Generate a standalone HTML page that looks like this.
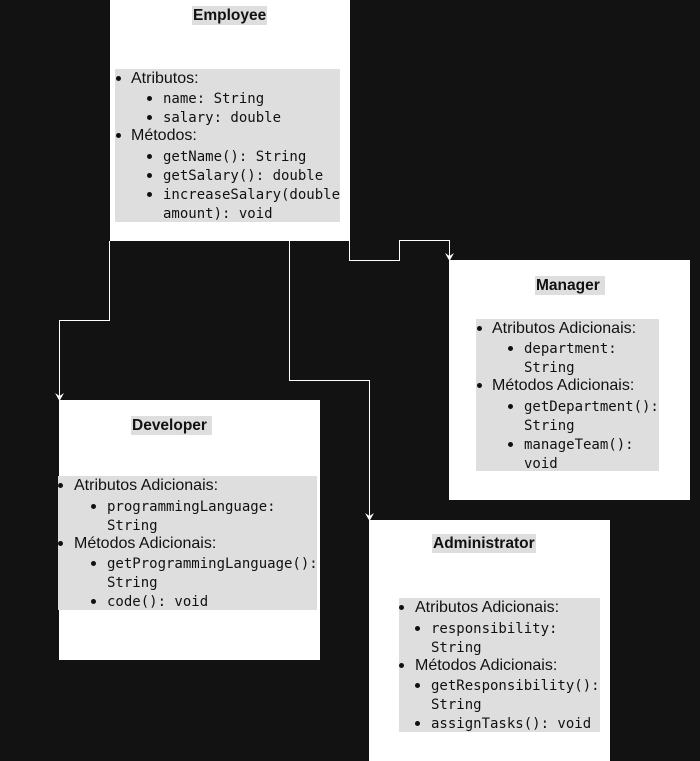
<!DOCTYPE html>
<html><head><meta charset="utf-8"><style>
html,body{margin:0;padding:0;}
body{width:700px;height:761px;background:#121212;position:relative;overflow:hidden;font-family:"Liberation Sans",Arial,sans-serif;}
.box{position:absolute;background:#fff;}
.g{position:absolute;background:#dedede;}
.t{position:absolute;font-weight:bold;font-size:15.5px;color:#111;background:#dedede;line-height:19px;padding:0 1px;}
.l{position:absolute;font-size:16px;color:#111;line-height:19px;white-space:nowrap;}
.m{position:absolute;font-family:"DejaVu Sans Mono","Liberation Mono",monospace;font-size:14px;color:#111;line-height:19px;white-space:nowrap;padding-top:2px;}
.b{position:absolute;width:5px;height:5px;border-radius:50%;background:#111;}
svg{position:absolute;left:0;top:0;}
</style></head><body>
<div class="box" style="left:110px;top:0;width:240px;height:241px"></div>
<div class="box" style="left:449px;top:260px;width:241px;height:240px"></div>
<div class="box" style="left:59px;top:400px;width:261px;height:260px"></div>
<div class="box" style="left:369px;top:520px;width:241px;height:241px"></div>

<svg width="700" height="761">
<g fill="none" stroke="#fff" stroke-width="1">
<path d="M109.5 241V320.5H59.5V398"/>
<path d="M289.5 241V380.5H369.5V518"/>
<path d="M349.5 241V260.5H399.5V240.5H449.5V258"/>
</g>
<g fill="#fff">
<path d="M55 393L59.5 401L64 393L59.5 396Z"/>
<path d="M365 513L369.5 521L374 513L369.5 516Z"/>
<path d="M445 253L449.5 261L454 253L449.5 256Z"/>
</g>
</svg>

<!-- Employee -->
<div class="t" style="left:192px;top:6px">Employee</div>
<div class="g" style="left:115px;top:69px;width:225px;height:153px"></div>
<div class="b" style="left:116px;top:76px"></div><div class="l" style="left:131px;top:69px">Atributos:</div>
<div class="b" style="left:147px;top:96px"></div><div class="m" style="left:163px;top:88px">name: String</div>
<div class="b" style="left:147px;top:115px"></div><div class="m" style="left:163px;top:107px">salary: double</div>
<div class="b" style="left:116px;top:133px"></div><div class="l" style="left:131px;top:126px">Métodos:</div>
<div class="b" style="left:147px;top:154px"></div><div class="m" style="left:163px;top:146px">getName(): String</div>
<div class="b" style="left:147px;top:173px"></div><div class="m" style="left:163px;top:165px">getSalary(): double</div>
<div class="b" style="left:147px;top:192px"></div><div class="m" style="left:163px;top:184px">increaseSalary(double</div>
<div class="m" style="left:163px;top:203px">amount): void</div>

<!-- Manager -->
<div class="t" style="left:535px;top:276px">Manager&nbsp;</div>
<div class="g" style="left:476px;top:319px;width:183px;height:152px"></div>
<div class="b" style="left:477px;top:326px"></div><div class="l" style="left:492px;top:319px">Atributos Adicionais:</div>
<div class="b" style="left:508px;top:346px"></div><div class="m" style="left:524px;top:338px">department:</div>
<div class="m" style="left:524px;top:357px">String</div>
<div class="b" style="left:477px;top:383px"></div><div class="l" style="left:492px;top:376px">Métodos Adicionais:</div>
<div class="b" style="left:508px;top:404px"></div><div class="m" style="left:524px;top:396px">getDepartment():</div>
<div class="m" style="left:524px;top:415px">String</div>
<div class="b" style="left:508px;top:442px"></div><div class="m" style="left:524px;top:434px">manageTeam():</div>
<div class="m" style="left:524px;top:453px">void</div>

<!-- Developer -->
<div class="t" style="left:131px;top:416px">Developer&nbsp;</div>
<div class="g" style="left:58px;top:476px;width:259px;height:134px"></div>
<div class="b" style="left:58px;top:483px"></div><div class="l" style="left:74px;top:476px">Atributos Adicionais:</div>
<div class="b" style="left:91px;top:504px"></div><div class="m" style="left:107px;top:496px">programmingLanguage:</div>
<div class="m" style="left:107px;top:515px">String</div>
<div class="b" style="left:58px;top:541px"></div><div class="l" style="left:74px;top:534px">Métodos Adicionais:</div>
<div class="b" style="left:91px;top:561px"></div><div class="m" style="left:107px;top:553px">getProgrammingLanguage():</div>
<div class="m" style="left:107px;top:572px">String</div>
<div class="b" style="left:91px;top:599px"></div><div class="m" style="left:107px;top:591px">code(): void</div>

<!-- Administrator -->
<div class="t" style="left:432px;top:534px">Administrator</div>
<div class="g" style="left:399px;top:598px;width:201px;height:134px"></div>
<div class="b" style="left:399px;top:605px"></div><div class="l" style="left:415px;top:598px">Atributos Adicionais:</div>
<div class="b" style="left:415px;top:626px"></div><div class="m" style="left:431px;top:618px">responsibility:</div>
<div class="m" style="left:431px;top:637px">String</div>
<div class="b" style="left:399px;top:663px"></div><div class="l" style="left:415px;top:656px">Métodos Adicionais:</div>
<div class="b" style="left:415px;top:683px"></div><div class="m" style="left:431px;top:675px">getResponsibility():</div>
<div class="m" style="left:431px;top:694px">String</div>
<div class="b" style="left:415px;top:721px"></div><div class="m" style="left:431px;top:713px">assignTasks(): void</div>
</body></html>
